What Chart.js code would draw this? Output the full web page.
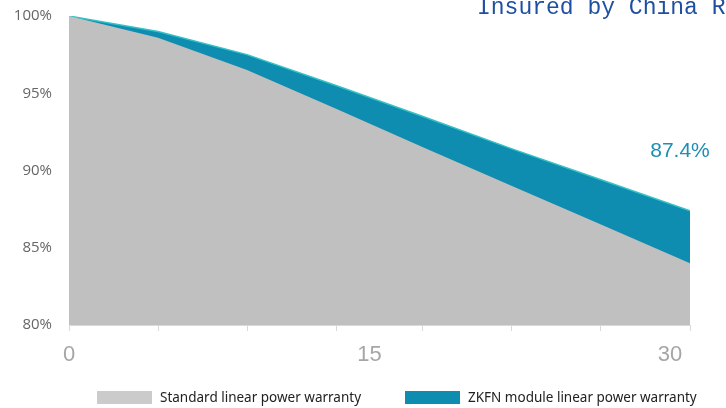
<!DOCTYPE html>
<html>
<head>
<meta charset="utf-8">
<script src="https://cdn.jsdelivr.net/npm/chart.js@4.4.1/dist/chart.umd.min.js"></script>
<style>
  body { margin: 0; background: #fff; }
  #wrap { position: relative; width: 726px; height: 408px; overflow: hidden; }
  #title { position: absolute; left: 477px; top: -5px; font: 23px "Liberation Mono", monospace; color: #1f4fa0; white-space: nowrap; }
  .legend { position: absolute; top: 388px; font: 13.5px "Noto Sans", sans-serif; color: #222; display: flex; align-items: center; white-space: nowrap; }
  .swatch { width: 55px; height: 13px; margin-right: 8px; }
</style>
</head>
<body>
<div id="wrap">
  <canvas id="chart" width="726" height="408"></canvas>
  <div id="title">Insured by China Reinsurance</div>
  <div class="legend" style="left:97px"><span class="swatch" style="background:#cbcbcb"></span>Standard linear power warranty</div>
  <div class="legend" style="left:405px"><span class="swatch" style="background:#0f8db0"></span>ZKFN module linear power warranty</div>
</div>
<script>
// years of the warranty curve (x), and the two warranty levels in %
const years = [0, 4.3, 8.6, 12.9, 17.1, 21.4, 25.7, 30];
const standard = [100, 98.6, 96.5, 94.0, 91.5, 89.0, 86.5, 84.0];
const zkfn = [100, 99.0, 97.5, 95.5, 93.5, 91.4, 89.4, 87.4];
const yearLabels = [0, 15, 30];
const seriesNames = ["Standard linear power warranty", "ZKFN module linear power warranty"];
const endLabel = "87.4%";

const toPoints = (vals) => vals.map((v, i) => ({ x: years[i], y: v }));

// Text above the end of the ZKFN curve
const endLabelPlugin = {
  id: "endLabel",
  afterDatasetsDraw(chart) {
    const meta = chart.getDatasetMeta(1);
    const pt = meta.data[meta.data.length - 1];
    const ctx = chart.ctx;
    ctx.save();
    ctx.font = '21px "Liberation Sans", Arial, sans-serif';
    ctx.fillStyle = "#1d8fb2";
    ctx.textAlign = "center";
    ctx.textBaseline = "middle";
    ctx.fillText(endLabel, pt.x - 10, pt.y - 59);
    ctx.restore();
  },
};

new Chart(document.getElementById("chart"), {
  type: "line",
  plugins: [endLabelPlugin],
  data: {
    datasets: [
      {
        label: seriesNames[0],
        data: toPoints(standard),
        backgroundColor: "#c0c0c0",
        borderColor: "#c0c0c0",
        borderWidth: 0,
        pointRadius: 0,
        fill: "start",
        tension: 0,
      },
      {
        label: seriesNames[1],
        data: toPoints(zkfn),
        backgroundColor: "#0f8db0",
        borderColor: "#35c2c6",
        borderWidth: 1.5,
        pointRadius: 0,
        fill: "start",
        tension: 0,
      },
    ],
  },
  options: {
    responsive: false,
    animation: false,
    layout: { padding: { top: 16, right: 36, left: 0, bottom: 0 } },
    plugins: { legend: { display: false }, tooltip: { enabled: false } },
    scales: {
      x: {
        type: "linear",
        min: 0,
        max: 30,
        afterBuildTicks: (scale) => { scale.ticks = years.map((v) => ({ value: v })); },
        afterFit: (scale) => { scale.height = 6; scale.paddingLeft = 0; scale.paddingRight = 0; },
        ticks: { display: false },
        grid: { drawOnChartArea: false, tickLength: 6, color: "#d9d9d9" },
        border: { color: "#d9d9d9" },
      },
      x2: {
        type: "linear",
        position: "bottom",
        min: 0,
        max: 31,
        afterBuildTicks: (scale) => { scale.ticks = yearLabels.map((v) => ({ value: v })); },
        afterFit: (scale) => { scale.height = 77; scale.paddingLeft = 0; scale.paddingRight = 0; },
        ticks: {
          padding: 3,
          color: "#a6a6a6",
          font: { family: '"Liberation Sans", Arial, sans-serif', size: 22 },
          maxRotation: 0,
        },
        grid: { display: false },
        border: { display: false },
      },
      y: {
        min: 80,
        max: 100,
        afterFit: (scale) => { scale.width = 69; scale.paddingTop = 0; scale.paddingBottom = 0; },
        ticks: {
          stepSize: 5,
          padding: 9,
          color: "#666666",
          font: { family: '"Open Sans", sans-serif', size: 15 },
          callback: (v) => v + "%",
        },
        grid: { display: false },
        border: { display: false },
      },
    },
  },
});
</script>
</body>
</html>
